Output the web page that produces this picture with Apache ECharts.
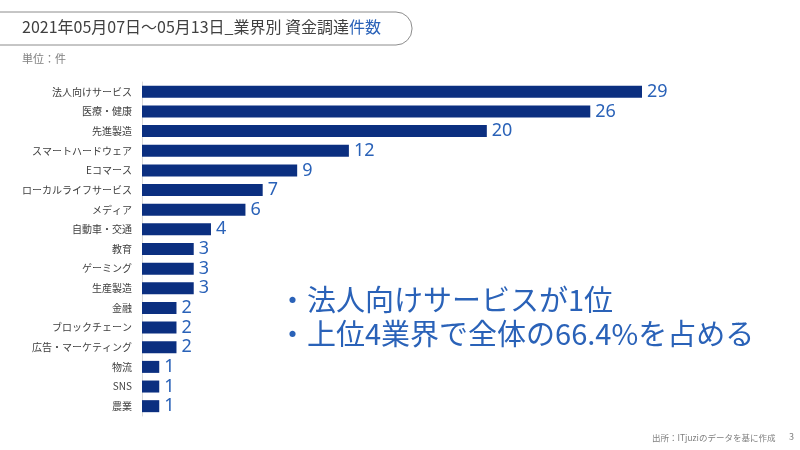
<!DOCTYPE html>
<html>
<head>
<meta charset="utf-8">
<script src="https://cdn.jsdelivr.net/npm/echarts@6/dist/echarts.min.js"></script>
<style>
  html, body { margin: 0; padding: 0; background: #fff; }
  #chart { width: 800px; height: 450px; }
</style>
</head>
<body>
<div id="chart"></div>
<script>
// 業界別 資金調達件数
const categories = [
  "法人向けサービス", "医療・健康", "先進製造", "スマートハードウェア", "Eコマース",
  "ローカルライフサービス", "メディア", "自動車・交通", "教育", "ゲーミング",
  "生産製造", "金融", "ブロックチェーン", "広告・マーケティング", "物流", "SNS", "農業"
];
const counts = [29, 26, 20, 12, 9, 7, 6, 4, 3, 3, 3, 2, 2, 2, 1, 1, 1];

const font = "'Noto Sans CJK JP', 'Noto Sans', sans-serif";
const chart = echarts.init(document.getElementById("chart"));

chart.setOption({
  animation: false,
  textStyle: { fontFamily: font },
  grid: { left: 142, top: 82, width: 500, height: 334 },
  xAxis: {
    type: "value",
    min: 0,
    max: 29,
    show: false,
  },
  yAxis: {
    type: "category",
    inverse: true,
    data: categories,
    axisTick: { show: false },
    axisLine: { lineStyle: { color: "#d9d9d9", width: 1 } },
    axisLabel: { color: "#404040", fontSize: 10, margin: 10 },
  },
  series: [
    {
      type: "bar",
      data: counts,
      barWidth: 12,
      itemStyle: { color: "#0b2f80" },
      label: {
        show: true,
        position: "right",
        distance: 5,
        color: "#2a62b8",
        fontSize: 18,
        fontFamily: "'Noto Sans', sans-serif",
      },
    },
  ],
  graphic: [
    {
      type: "rect",
      shape: { x: -20, y: 12, width: 432, height: 33, r: 16 },
      style: { fill: "#fff", stroke: "#8c8c8c", lineWidth: 1 },
    },
    {
      type: "text",
      left: 22,
      top: 19,
      style: {
        text: "{a|2021年05月07日～05月13日_業界別 資金調達}{b|件数}",
        rich: {
          a: { fill: "#404040", fontSize: 16, fontFamily: font },
          b: { fill: "#2a62b8", fontSize: 16, fontFamily: font },
        },
      },
    },
    {
      type: "text",
      left: 22,
      top: 53,
      style: { text: "単位：件", fill: "#808080", fontSize: 11, fontFamily: font },
    },
    {
      type: "text",
      left: 278,
      top: 283,
      style: {
        text: "・法人向けサービスが1位\n・上位4業界で全体の66.4%を占める",
        fill: "#2a62b8",
        fontSize: 29,
        lineHeight: 34,
        fontFamily: font,
      },
    },
    {
      type: "text",
      left: 652,
      top: 434,
      style: { text: "出所：ITjuziのデータを基に作成", fill: "#808080", fontSize: 8.5, fontFamily: font },
    },
    {
      type: "text",
      left: 789,
      top: 432,
      style: { text: "3", fill: "#808080", fontSize: 9, fontFamily: font },
    },
  ],
});
</script>
</body>
</html>
